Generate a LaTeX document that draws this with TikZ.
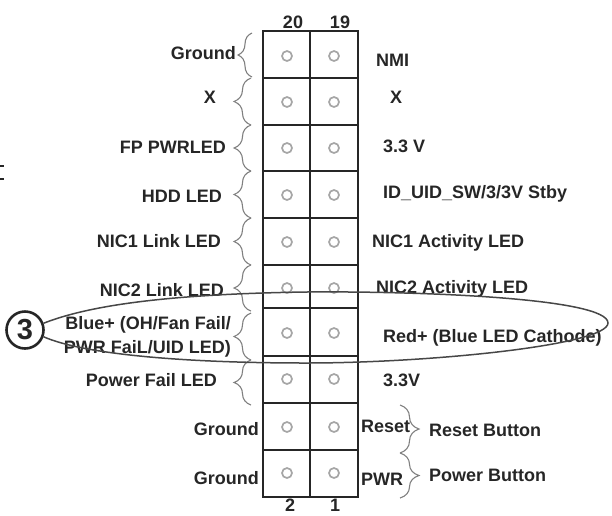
\documentclass[tikz,border=0pt]{standalone}
\usepackage{fontspec}
\setmainfont{Liberation Sans}
\usetikzlibrary{decorations.pathreplacing}
\definecolor{ink}{HTML}{262626}
\definecolor{holegray}{HTML}{A6A6A6}
\tikzset{
    lbl/.style={inner sep=0pt, text=ink, font=\fontsize{18}{18}\selectfont\bfseries},
    lblL/.style={lbl, anchor=base east},
    lblR/.style={lbl, anchor=base west},
    lblC/.style={lbl, anchor=base},
    curly/.style={draw=gray, line width=1.1pt, decorate, decoration={brace, amplitude=#1}},
    curly/.default=17,
    hole/.style={draw=holegray, line width=1.7pt, fill=white},
}

\begin{document}
\begin{tikzpicture}[x=1pt,y=-1pt]
    \useasboundingbox (0,0) rectangle (612,515);

    % stray marks at the edge
    \draw[ink, line width=1.6pt] (0,166) -- (4,166) (0,179) -- (4,179);

    % header grid
    \draw[ink, line width=1.2pt] (263,31) rectangle (358,497);
    \draw[ink, line width=1.2pt] (310,31) -- (310,497);
    \foreach \y in {78,125,171,218,265,308,356,403,450}
        \draw[ink, line width=1.2pt] (263,\y) -- (358,\y);
    \foreach \y in {56,102,148,195,242,288,333,379,427,473} {
        \draw[hole] (287,\y) circle (5);
        \draw[hole] (334,\y) circle (5);
    }

    % pin numbers
    \node[lblC] (pinB) at (293,28) {20};
    \node[lblC] (pinA) at (340,28) {19};
    \node[lblC] (pinC) at (290,511) {2};
    \node[lblC] (pinD) at (335,511) {1};

    % left labels
    \node[lblL] (gndA) at (236,59) {Ground};
    \node[lblL] (xL) at (216,103) {X};
    \node[lblL] (fpLed) at (226,153) {FP PWRLED};
    \node[lblL] (hddLed) at (222,202) {HDD LED};
    \node[lblL] (nicAL) at (221,247) {NIC1 Link LED};
    \node[lblL] (nicBL) at (224,296) {NIC2 Link LED};
    \node[lblL] (blueA) at (231,329) {Blue+ (OH/Fan Fail/};
    \node[lblL] (blueB) at (231,353) {PWR FaiL/UID LED)};
    \node[lblL] (pwrFail) at (217,386) {Power Fail LED};
    \node[lblL] (gndB) at (259,435) {Ground};
    \node[lblL] (gndC) at (259,484) {Ground};

    % right labels
    \node[lblR] (nmi) at (376,66) {NMI};
    \node[lblR] (xR) at (390,103) {X};
    \node[lblR] (vA) at (383,152) {3.3 V};
    \node[lblR] (idUid) at (383,198) {ID\_UID\_SW/3/3V Stby};
    \node[lblR] (nicAR) at (372,247) {NIC1 Activity LED};
    \node[lblR] (nicBR) at (376,293) {NIC2 Activity LED};
    \node[lblR] (redP) at (383,342) {Red+ (Blue LED Cathode)};
    \node[lblR] (vB) at (383,386) {3.3V};
    \node[lblR] (rst) at (361,432) {Reset};
    \node[lblR] (rstBtn) at (429,436) {Reset Button};
    \node[lblR] (pwr) at (361,485) {PWR};
    \node[lblR] (pwrBtn) at (429,481) {Power Button};

    % braces
    \draw[curly=14] (252,77) -- (252,33);
    \foreach \a/\b in {78/125,125/171,171/218,218/265,265/311,313/360,360/405}
        \draw[curly] (251,\b) -- (251,\a);
    \foreach \a/\b in {405/453,453/498}
        \draw[curly=19] (400,\a) -- (400,\b);

    % callout
    \node[circle, draw=ink, line width=2.6pt, minimum size=37pt, inner sep=0pt, text=ink, font=\fontsize{29}{29}\selectfont\bfseries] (callout) at (25,330) {3};
    \draw[ink!85, line width=1.5pt] (callout.20)
        .. controls (90,305) and (170,294) .. (306,292)
        .. controls (420,291) and (608,298) .. (608,323)
        .. controls (608,345) and (430,363) .. (306,363)
        .. controls (190,363) and (85,355) .. (callout.-20);
\end{tikzpicture}
\end{document}
